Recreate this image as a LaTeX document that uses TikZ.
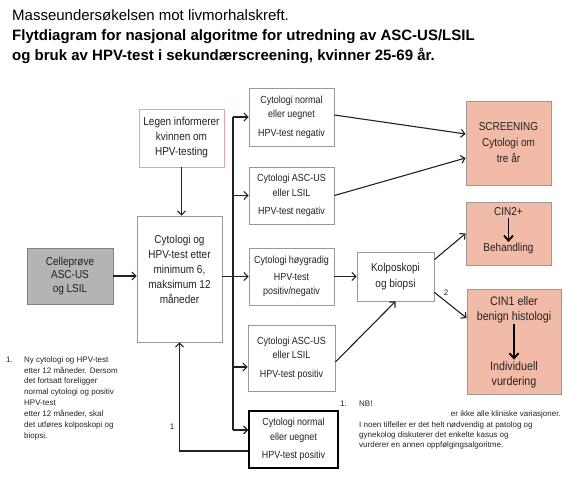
\documentclass[tikz,border=0pt]{standalone}
\usepackage{fontspec}
\setmainfont{Liberation Sans}
\newfontfamily\narrowfont[FakeStretch=0.87]{Liberation Sans}
\usetikzlibrary{arrows.meta}
\definecolor{ink}{HTML}{222222}
\definecolor{boxgrey}{HTML}{999999}
\definecolor{pinkline}{HTML}{E8A3AA}
\definecolor{cellfill}{HTML}{B4B4B4}
\definecolor{cellline}{HTML}{808080}
\definecolor{salmon}{HTML}{F2BBA7}
\begin{document}
\begin{tikzpicture}[x=1pt,y=-1pt,
  box/.style={draw=boxgrey, line width=0.8pt, fill=white, align=center, inner sep=0pt, text=ink},
  bigtxt/.style={font=\narrowfont\fontsize{11.5}{15}\selectfont},
  smalltxt/.style={font=\narrowfont\fontsize{10.3}{14.5}\selectfont},
  cintxt/.style={font=\narrowfont\fontsize{12.3}{15}\selectfont, text=ink, align=center, inner sep=1.5pt},
  txt/.style={text=ink, align=center, inner sep=0pt},
  conn/.style={draw=ink, line width=1.1pt, -{Straight Barb[length=4pt,width=8pt]}},
  plainline/.style={draw=ink, line width=1.1pt},
  inarrow/.style={draw=black, line width=1.8pt, -{Straight Barb[length=5pt,width=9pt]}},
  note/.style={font=\fontsize{8}{11}\selectfont, text=ink, inner sep=0pt, align=left},
  titlefont/.style={font=\fontsize{15}{20}\selectfont, text=black, inner sep=0pt},
]
\useasboundingbox (0,0) rectangle (563,479);

% Title
\node[titlefont, anchor=base west] (title1) at (12,20) {Masseundersøkelsen mot livmorhalskreft.};
\node[titlefont, font=\bfseries\fontsize{15}{20}\selectfont, anchor=base west] (title2) at (12,40) {Flytdiagram for nasjonal algoritme for utredning av ASC-US/LSIL};
\node[titlefont, font=\bfseries\fontsize{15}{20}\selectfont, anchor=base west] (title3) at (12,60) {og bruk av HPV-test i sekundærscreening, kvinner 25-69 år.};

% Left column
\node[box, bigtxt, draw=pinkline, minimum width=85pt, minimum height=58pt] (legen) at (181.5,138) {Legen informerer\\kvinnen om\\HPV-testing};
\node[box, minimum width=85pt, minimum height=126pt] (cyto) at (179.5,279) {};
\node[txt, bigtxt] (cytotxt) at (179.5,269) {Cytologi og\\HPV-test etter\\minimum 6,\\maksimum 12\\måneder};
\node[box, font=\narrowfont\fontsize{11.5}{13.5}\selectfont, fill=cellfill, draw=cellline, minimum width=86pt, minimum height=56pt] (celle) at (70,276) {Celleprøve\\ASC-US\\og LSIL};

% Middle column
\node[box, smalltxt, minimum width=85pt, minimum height=58pt] (b1) at (291.5,117) {Cytologi normal\\eller uegnet\\[4pt]HPV-test negativ};
\node[box, smalltxt, minimum width=85pt, minimum height=57pt] (b2) at (291.5,195.5) {Cytologi ASC-US\\eller LSIL\\[4pt]HPV-test negativ};
\node[box, smalltxt, minimum width=85pt, minimum height=57pt] (b3) at (291.5,276.5) {Cytologi høygradig\\[2pt]HPV-test\\positiv/negativ};
\node[box, smalltxt, minimum width=87pt, minimum height=66pt] (b4) at (291.5,358) {Cytologi ASC-US\\eller LSIL\\[4pt]HPV-test positiv};
\node[box, smalltxt, draw=black, line width=1.4pt, minimum width=89pt, minimum height=57pt] (b5) at (293.5,439.5) {Cytologi normal\\eller uegnet\\[4pt]HPV-test positiv};

\node[box, font=\narrowfont\fontsize{11.5}{16}\selectfont, minimum width=77pt, minimum height=49pt] (kolpo) at (395.5,276.5) {Kolposkopi\\og biopsi};

% Right column
\node[box, font=\narrowfont\fontsize{11.5}{16}\selectfont, fill=salmon, draw=boxgrey, minimum width=85pt, minimum height=84pt] (screen) at (508.5,143) {SCREENING\\Cytologi om\\tre år};
\node[box, fill=salmon, minimum width=85pt, minimum height=63pt] (cin2) at (508.5,233.5) {};
\node[cintxt, font=\narrowfont\fontsize{11.5}{15}\selectfont] (cin2a) at (508.5,212) {CIN2+};
\node[cintxt, font=\narrowfont\fontsize{11.5}{15}\selectfont] (cin2b) at (508.5,249) {Behandling};
\draw[inarrow] (cin2a) -- (cin2b);
\node[box, fill=salmon, minimum width=94pt, minimum height=105pt] (cin1) at (514,341.5) {};
\node[cintxt] (cin1a) at (514,309.5) {CIN1 eller\\benign histologi};
\node[cintxt] (cin1b) at (514,374.5) {Individuell\\vurdering};
\draw[inarrow] (cin1a) -- (cin1b);

% Connector points
\coordinate (tr) at (233,0);
\coordinate (b4in) at ([yshift=-9pt]b4.west);
\coordinate (b5in) at ([yshift=9.5pt]b5.west);
\coordinate (b5out) at ([yshift=-11.5pt]b5.west);
\coordinate (b1out) at ([yshift=2pt]b1.east);
\coordinate (scr1) at ([yshift=9pt]screen.west);
\coordinate (scr2) at ([yshift=-15pt]screen.west);
\coordinate (b4out) at ([yshift=-4pt]b4.east);
\coordinate (kolA) at ([yshift=-8pt]kolpo.north east);
\coordinate (kolB) at ([yshift=9pt]kolpo.south east);
\coordinate (cin1in) at ([yshift=23.5pt]cin1.west);

% Connectors
\draw[conn] (celle.east) -- (cyto.west |- celle.east);
\draw[conn] (legen.south) -- (legen.south |- cyto.north);
\draw[plainline] (cyto.east |- b3.west) -- (tr |- b3.west);
\draw[plainline] (tr |- b1.west) -- (tr |- b5in);
\draw[conn] (tr |- b1.west) -- (b1.west);
\draw[conn] (tr |- b2.west) -- (b2.west);
\draw[conn] (tr |- b3.west) -- (b3.west);
\draw[conn] (tr |- b4in) -- (b4in);
\draw[conn] (tr |- b5in) -- (b5in);
\draw[conn] (b5out) -| (cyto.south);
\node[note] (lab1) at (172,427) {1};

\draw[conn] (b1out) -- (scr1);
\draw[conn] (b2.east) -- (scr2);
\draw[conn] (b3.east) -- (kolpo.west);
\draw[conn] (b4out) -- (kolpo.south);
\draw[conn] (kolA) -- (cin2.west);
\draw[conn] (kolB) -- (cin1in);
\node[note] (lab2) at (446,293) {2};

% Notes
\node[note, anchor=base west] (n1num) at (6,362) {1.};
\node[note, anchor=north west] (n1) at (24,356) {Ny cytologi og HPV-test\\etter 12 måneder. Dersom\\det fortsatt foreligger\\normal cytologi og positiv\\HPV-test\\etter 12 måneder, skal\\det utføres kolposkopi og\\biopsi.};

\node[note, anchor=base west] (n2num) at (340,406) {1.};
\node[note, anchor=base west] (nb) at (359,406) {NB!};
\node[note, anchor=base east] (nb1) at (561,416) {er ikke alle kliniske variasjoner.};
\node[note, font=\fontsize{8}{10}\selectfont, anchor=north west] (nb2) at (359,421) {I noen tilfeller er det helt nødvendig at patolog og\\gynekolog diskuterer det enkelte kasus og\\vurderer en annen oppfølgingsalgoritme.};
\end{tikzpicture}
\end{document}
